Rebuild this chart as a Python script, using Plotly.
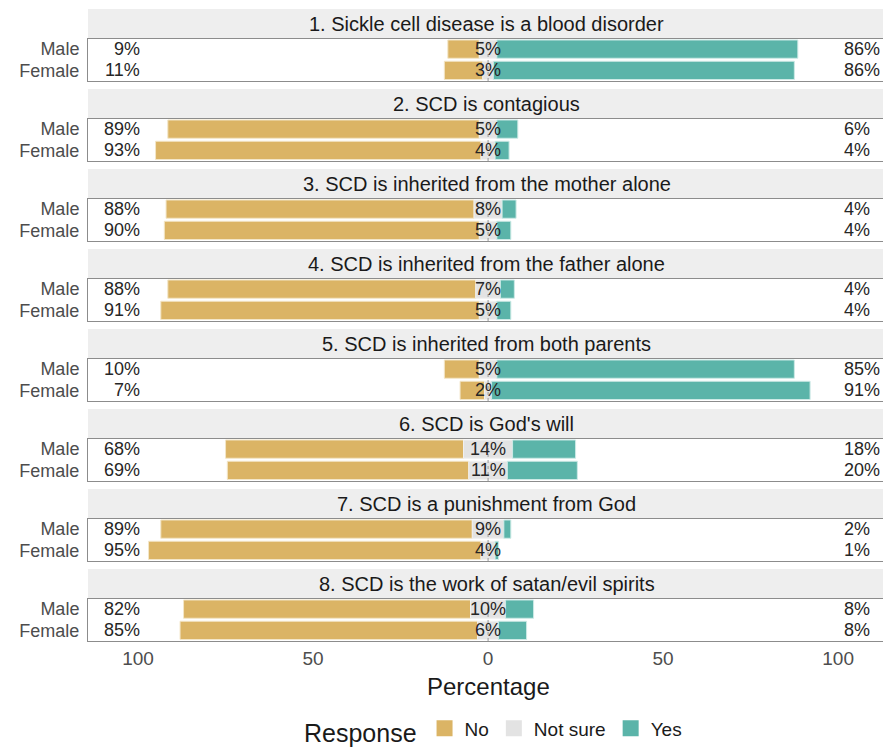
import plotly.graph_objects as go
from plotly.subplots import make_subplots

items = [
    "1. Sickle cell disease is a blood disorder",
    "2. SCD is contagious",
    "3. SCD is inherited from the mother alone",
    "4. SCD is inherited from the father alone",
    "5. SCD is inherited from both parents",
    "6. SCD is God's will",
    "7. SCD is a punishment from God",
    "8. SCD is the work of satan/evil spirits",
]
groups = ["Male", "Female"]
responses = ["No", "Not sure", "Yes"]

male_no = [9, 89, 88, 88, 10, 68, 89, 82]
male_notsure = [5, 5, 8, 7, 5, 14, 9, 10]
male_yes = [86, 6, 4, 4, 85, 18, 2, 8]

female_no = [11, 93, 90, 91, 7, 69, 95, 85]
female_notsure = [3, 4, 5, 5, 2, 11, 4, 6]
female_yes = [86, 4, 4, 4, 91, 20, 1, 8]

tick_vals = [-100, -50, 0, 50, 100]
tick_text = ["100", "50", "0", "50", "100"]

C_NO = "#DBB465"
C_NS = "#E3E3E3"
C_YES = "#5BB4A9"
COLORS = [C_NO, C_NS, C_YES]
FONT = "Liberation Sans, Arial, sans-serif"

# page has an 8px body offset; work in page pixels and shift
OFF = 8
W, H = 891 - OFF, 747 - OFF
M_L, M_R, M_T, M_B = 88 - OFF, 6, 9 - OFF, 106
PH = H - M_T - M_B
PANEL_BOTTOM_PX = 641  # page pixels


def py(pix):
    return (PANEL_BOTTOM_PX - pix) / PH


n = len(items)
fig = make_subplots(rows=n, cols=1, shared_xaxes=True, vertical_spacing=0.01)

shapes = []
annotations = []
for i in range(n):
    r = i + 1
    no = [male_no[i], female_no[i]]
    ns = [male_notsure[i], female_notsure[i]]
    ye = [male_yes[i], female_yes[i]]
    half = [v / 2 for v in ns]
    fig.add_trace(go.Bar(y=groups, x=no, base=[-h - v for h, v in zip(half, no)], orientation="h",
                         marker=dict(color=C_NO, line=dict(color="#F3E6C8", width=1)), width=0.86,
                         name="No", showlegend=False), row=r, col=1)
    fig.add_trace(go.Bar(y=groups, x=ns, base=[-h for h in half], orientation="h",
                         marker=dict(color=C_NS, line=dict(color="#F0F0F0", width=1)), width=0.86,
                         name="Not sure", showlegend=False), row=r, col=1)
    fig.add_trace(go.Bar(y=groups, x=ye, base=half, orientation="h",
                         marker=dict(color=C_YES, line=dict(color="#CDEAE6", width=1)), width=0.86,
                         name="Yes", showlegend=False), row=r, col=1)

    top_px = 9 + 80 * i
    strip_bot_px = top_px + 29.5
    panel_bot_px = top_px + 72
    yd = [py(panel_bot_px), py(strip_bot_px)]
    suffix = "" if r == 1 else str(r)
    fig.layout["yaxis" + suffix].domain = yd
    shapes.append(dict(type="rect", xref="paper", yref="paper", x0=0, x1=1,
                       y0=py(strip_bot_px), y1=py(top_px), fillcolor="#EEEEEE",
                       line=dict(width=0), layer="below"))
    annotations.append(dict(text=items[i], xref="paper", yref="paper", x=0.5,
                            y=py((top_px + strip_bot_px) / 2), showarrow=False,
                            xanchor="center", yanchor="middle",
                            font=dict(size=20, color="#1A1A1A", family=FONT)))
    shapes.append(dict(type="line", xref="x" + suffix, yref="y" + suffix + " domain",
                       x0=0, x1=0, y0=0, y1=1, line=dict(color="#9A9A9A", width=1, dash="dot"),
                       layer="above"))
    for g, grp in enumerate(groups):
        annotations.append(dict(text=f"{no[g]}%", xref="x" + suffix, yref="y" + suffix,
                                x=-99, y=grp, xanchor="right", yanchor="middle", showarrow=False,
                                font=dict(size=18, color="#262626", family=FONT)))
        annotations.append(dict(text=f"{ns[g]}%", xref="x" + suffix, yref="y" + suffix,
                                x=0, y=grp, xanchor="center", yanchor="middle", showarrow=False,
                                font=dict(size=18, color="#262626", family=FONT)))
        annotations.append(dict(text=f"{ye[g]}%", xref="x" + suffix, yref="y" + suffix,
                                x=101, y=grp, xanchor="left", yanchor="middle", showarrow=False,
                                font=dict(size=18, color="#262626", family=FONT)))
    fig.update_yaxes(row=r, col=1, type="category", categoryorder="array",
                     categoryarray=["Female", "Male"], range=[-0.5, 1.5],
                     tickmode="array", tickvals=groups, ticktext=groups,
                     showline=True, mirror=True, linecolor="#8C8C8C", linewidth=1,
                     showgrid=False, zeroline=False, ticks="", ticklabelstandoff=4,
                     automargin=False,
                     tickfont=dict(size=18, color="#4D4D4D", family=FONT))
    fig.update_xaxes(row=r, col=1, range=[-114.3, 113.4], showline=True, mirror=True,
                     linecolor="#8C8C8C", linewidth=1, showgrid=False, zeroline=False,
                     tickvals=tick_vals, ticktext=tick_text, showticklabels=(r == n),
                     ticks="", automargin=False,
                     tickfont=dict(size=19, color="#4D4D4D", family=FONT))

# legend entries (square swatches)
for name, col in zip(responses, COLORS):
    fig.add_trace(go.Scatter(x=[None], y=[None], mode="markers", name=name,
                             marker=dict(symbol="square", size=18, color=col),
                             showlegend=True), row=n, col=1)

annotations.append(dict(text="Percentage", xref="paper", yref="paper", x=0.503, y=py(686),
                        xanchor="center", yanchor="middle", showarrow=False,
                        font=dict(size=24, color="#1A1A1A", family=FONT)))

fig.update_layout(
    width=W, height=H,
    margin=dict(l=M_L, r=M_R, t=M_T, b=M_B, autoexpand=False),
    barmode="overlay",
    paper_bgcolor="white", plot_bgcolor="white",
    shapes=shapes, annotations=annotations,
    font=dict(family=FONT),
    legend=dict(orientation="h", x=0.51, xanchor="center", y=py(731), yanchor="middle",
                title=dict(text="Response", side="left", font=dict(size=25, color="#1A1A1A", family=FONT)),
                font=dict(size=19, color="#1A1A1A", family=FONT), traceorder="normal",
                itemwidth=30, tracegroupgap=0),
)

fig.write_html("out.html")
